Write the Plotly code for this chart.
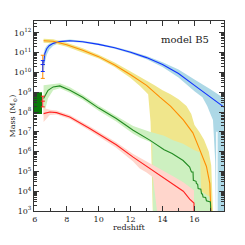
import plotly.graph_objects as go

# ---------------- data (log10 of mass in solar masses) ----------------
# blue (line + band)
z_blue = [6.55, 6.63, 6.75, 6.9, 7.15, 7.57, 8.2, 9.0, 10.0, 11.0, 12.0, 13.0, 14.0, 15.0, 16.0, 16.5, 17.0, 17.85]
lg_blue = [10.45, 10.96, 11.2, 11.35, 11.47, 11.56, 11.6, 11.55, 11.42, 11.25, 11.02, 10.75, 10.4, 9.95, 9.35, 9.05, 8.75, 8.25]
lg_blue_hi = [10.95, 11.2, 11.35, 11.45, 11.55, 11.62, 11.66, 11.6, 11.47, 11.3, 11.08, 10.83, 10.52, 10.15, 9.65, 9.42, 9.15, 8.7]
z_blue_lo = [6.55, 6.63, 6.75, 6.9, 7.15, 7.57, 8.2, 9.0, 10.0, 11.0, 12.0, 13.0, 14.0, 15.0, 16.0, 16.5, 16.8, 17.0, 17.16, 17.3, 17.36, 17.36, 17.45, 17.45, 17.85]
lg_blue_lo = [9.9, 10.5, 10.9, 11.15, 11.35, 11.5, 11.55, 11.5, 11.37, 11.2, 10.96, 10.67, 10.28, 9.75, 9.05, 8.75, 8.3, 7.9, 7.6, 5.5, 2.0, 7.0, 7.0, 2.0, 2.0]

# orange (line + yellow band)
z_orange = [6.55, 7.15, 8.0, 9.0, 10.0, 11.0, 12.0, 13.0, 13.83, 14.5, 15.3, 15.9, 16.33, 16.75, 16.96, 17.06, 17.07]
lg_orange = [11.6, 11.58, 11.4, 11.12, 10.8, 10.38, 9.88, 9.35, 8.75, 8.3, 7.6, 6.95, 6.1, 5.25, 4.4, 3.2, 2.0]
z_orange_hi = [6.55, 7.15, 8.0, 9.0, 10.0, 11.0, 12.0, 13.0, 13.5, 14.0, 14.5, 15.0, 15.5, 15.8, 16.0, 16.3, 16.6, 16.9, 17.05, 17.12, 17.2]
lg_orange_hi = [11.7, 11.68, 11.5, 11.22, 10.9, 10.5, 10.05, 9.6, 9.35, 9.1, 8.9, 8.65, 8.3, 7.9, 7.35, 7.0, 6.6, 6.0, 5.3, 3.8, 2.0]
z_orange_lo = [6.55, 7.15, 8.0, 9.0, 10.0, 11.0, 12.0, 12.6, 13.1, 13.25, 13.35, 13.42]
lg_orange_lo = [11.5, 11.48, 11.3, 11.02, 10.7, 10.27, 9.72, 9.3, 8.9, 7.5, 5.0, 2.0]

# green (line + light green band)
z_green = [6.55, 6.83, 7.15, 7.57, 8.2, 9.0, 10.0, 11.1, 12.16, 13.2, 14.1, 14.6, 15.29, 15.7, 15.81, 15.91, 15.93, 16.1, 16.12, 16.2, 16.23, 16.4, 16.44, 16.5, 16.54, 16.7, 16.75, 17.0, 17.06]
lg_green = [8.68, 9.1, 9.27, 9.32, 9.1, 8.75, 8.2, 7.67, 7.08, 6.58, 6.1, 5.9, 5.55, 5.22, 4.97, 4.97, 4.55, 4.5, 4.39, 4.35, 4.13, 4.1, 3.88, 3.85, 3.71, 3.68, 3.52, 3.46, 2.0]
z_green_hi = [6.55, 6.83, 7.15, 7.57, 8.2, 9.0, 10.0, 11.1, 12.16, 13.2, 14.1, 14.66, 15.29, 16.0, 16.35, 16.42, 17.0, 17.06]
lg_green_hi = [9.35, 9.38, 9.42, 9.45, 9.25, 8.88, 8.33, 7.82, 7.3, 7.0, 6.8, 6.58, 6.4, 6.07, 5.95, 4.0, 3.7, 2.0]
z_green_lo = [6.55, 6.83, 7.15, 7.57, 8.2, 9.0, 10.0, 11.1, 12.16, 12.6, 13.2, 13.35, 13.42]
lg_green_lo = [7.8, 8.7, 9.1, 9.2, 8.97, 8.62, 8.07, 7.52, 6.9, 6.7, 6.5, 6.4, 2.0]

# red (line + pink band)
z_red = [6.55, 6.94, 7.36, 8.19, 9.44, 10.07, 11.1, 12.16, 12.57, 13.62, 14.66, 15.3, 15.7, 15.97, 15.98]
lg_red = [7.92, 8.0, 7.97, 7.75, 7.17, 6.85, 6.35, 5.72, 5.5, 4.9, 4.35, 4.0, 3.6, 3.4, 2.0]
lg_red_hi = [8.2, 8.12, 8.08, 7.85, 7.28, 6.97, 6.48, 5.88, 5.7, 5.2, 4.75, 4.45, 4.2, 4.05, 2.0]
z_red_lo = [6.55, 6.94, 7.36, 8.19, 9.44, 10.07, 11.1, 12.16, 12.57, 13.0, 13.4, 13.8]
lg_red_lo = [7.5, 7.85, 7.87, 7.65, 7.06, 6.73, 6.2, 5.5, 5.15, 4.95, 4.7, 2.0]

# observations at z ~ 6.4
obs_box_z = [5.8, 6.45]
obs_box_lg = [7.9, 9.0]
obs_z = 6.5
obs_blue = [10.4, 10.6, 10.05]     # value, top, bottom
obs_orange = [10.4, 10.87, 9.7]
obs_red = [8.55, 8.8, 8.26]

x_ticks = [6, 8, 10, 12, 14, 16]
y_decades = list(range(3, 13))

# ---------------- figure ----------------
def p(v):
    return [10 ** a for a in v]

fig = go.Figure()

def band(z_hi, hi, z_lo, lo, color):
    xs = list(z_hi) + list(z_lo)[::-1]
    ys = p(hi) + p(lo)[::-1]
    fig.add_trace(go.Scatter(x=xs, y=ys, fill="toself", fillcolor=color,
                             line=dict(width=0), mode="lines", hoverinfo="skip",
                             showlegend=False))

band(z_blue, lg_blue_hi, z_blue_lo, lg_blue_lo, "#add8e6")
band(z_orange_hi, lg_orange_hi, z_orange_lo, lg_orange_lo, "#f0e68c")
band(z_green_hi, lg_green_hi, z_green_lo, lg_green_lo, "#cdf0c0")
band(z_red, lg_red_hi, z_red_lo, lg_red_lo, "#ffd6cc")

# observational box
bx = [obs_box_z[0], obs_box_z[1], obs_box_z[1], obs_box_z[0]]
by = p([obs_box_lg[0], obs_box_lg[0], obs_box_lg[1], obs_box_lg[1]])
fig.add_trace(go.Scatter(x=bx, y=by, fill="toself", fillcolor="#0a7a0a",
                         line=dict(width=0), mode="lines", showlegend=False))

for z, lg, col in [(z_blue, lg_blue, "#1030ff"), (z_orange, lg_orange, "#ff8c00"),
                   (z_green, lg_green, "#228b22"), (z_red, lg_red, "#ff2020")]:
    fig.add_trace(go.Scatter(x=z, y=p(lg), mode="lines",
                             line=dict(color=col, width=1.1), showlegend=False))

for ob, col in [(obs_orange, "#ff8c00"), (obs_blue, "#1030ff"), (obs_red, "#ff2020")]:
    v = 10 ** ob[0]
    fig.add_trace(go.Scatter(
        x=[obs_z], y=[v], mode="markers",
        marker=dict(color=col, size=3, symbol="line-ew-open", line=dict(color=col, width=1)),
        error_y=dict(type="data", symmetric=False, array=[10 ** ob[1] - v],
                     arrayminus=[v - 10 ** ob[2]], color=col, thickness=1, width=2),
        showlegend=False))

font = "DejaVu Serif"
fig.update_layout(
    template="none",
    width=237, height=237,
    margin=dict(l=26, r=21, t=13, b=34),
    paper_bgcolor="white", plot_bgcolor="white",
    font=dict(family=font, size=8, color="#222"),
    xaxis=dict(range=[5.95, 17.85], showgrid=False, zeroline=False, automargin=False,
               tickvals=x_ticks, ticks="inside", ticklen=5, tickwidth=1,
               tickcolor="#333", showline=True, linecolor="#333", linewidth=1, mirror="ticks",
               minor=dict(dtick=1, tick0=0, ticks="inside", ticklen=3, tickcolor="#333"),
               tickfont=dict(size=8)),
    yaxis=dict(type="log", range=[3, 12.6], showgrid=False, zeroline=False, automargin=False,
               tickvals=[10 ** d for d in y_decades],
               ticktext=["10<sup>%d</sup>" % d for d in y_decades],
               ticks="inside", ticklen=5, tickwidth=1, tickcolor="#333",
               showline=True, linecolor="#333", linewidth=1, mirror="ticks",
               minor=dict(dtick="D1", ticks="inside", ticklen=3, tickcolor="#333"),
               tickfont=dict(size=8)),
    annotations=[
        dict(text="model B5", x=0.93, y=0.9, xref="paper", yref="paper",
             xanchor="right", yanchor="middle", showarrow=False,
             font=dict(family=font, size=10, color="#222")),
        dict(text="redshift", x=0.5, y=-0.089, xref="paper", yref="paper",
             xanchor="center", yanchor="middle", showarrow=False,
             font=dict(family=font, size=8, color="#222")),
        dict(text="Mass (M<sub>⊙</sub>)", x=-0.108, y=0.5, xref="paper", yref="paper",
             xanchor="center", yanchor="middle", showarrow=False, textangle=-90,
             font=dict(family=font, size=8, color="#222")),
    ],
)

fig.write_html("out.html")
